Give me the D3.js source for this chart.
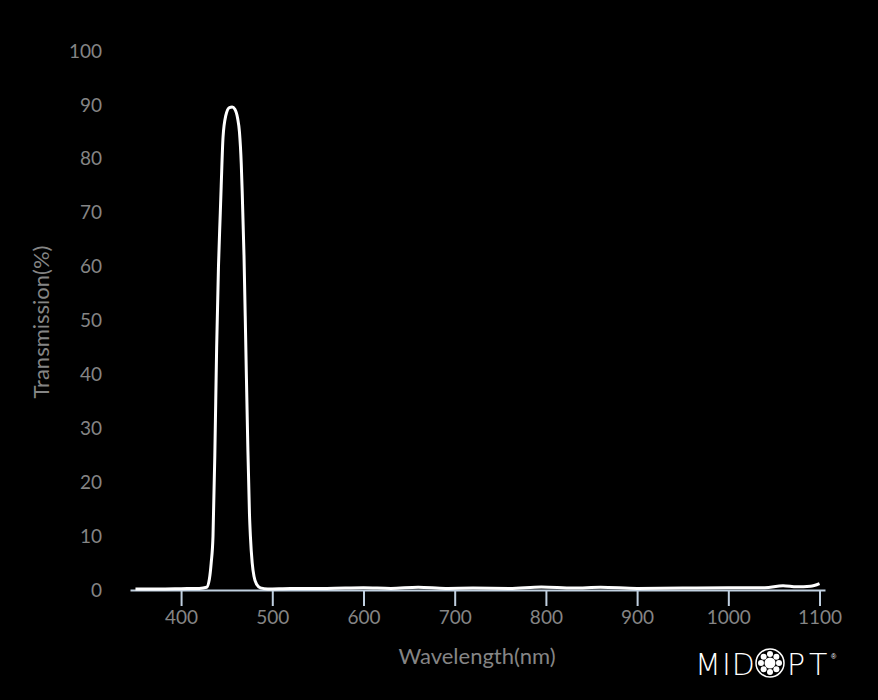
<!DOCTYPE html>
<html><head><meta charset="utf-8">
<script src="https://cdn.jsdelivr.net/npm/d3@7"></script>
<style>
html,body{margin:0;padding:0;background:#000;}
svg{display:block;}
</style></head>
<body>
<svg id="chart" width="878" height="700"></svg>
<script>
const wavelengths = [350,380,400,420,428,431,433,435,437,439,441,443,444,446,449,453,456,459,462,464,466,467,469,471,473,475,476,478,480,483,487,495,520,560,600,630,660,690,720,760,795,830,860,900,950,1000,1040,1060,1075,1090,1100];
const transmission = [0.2,0.2,0.25,0.3,0.5,2,5,10,25,45,60,70,75,84,88,89.5,89.6,89.2,87.5,85,79,74,62,45,28,14,10,5,2.5,1,0.4,0.2,0.3,0.3,0.4,0.3,0.5,0.3,0.35,0.3,0.55,0.35,0.5,0.3,0.35,0.4,0.4,0.8,0.6,0.7,1.2];
const xTicks = [400,500,600,700,800,900,1000,1100];
const yTicks = [0,10,20,30,40,50,60,70,80,90,100];

const svg = d3.select("#chart");
svg.append("rect").attr("width",878).attr("height",700).attr("fill","#000");

const x = d3.scaleLinear().domain([344,1106]).range([130,825]);
const y = d3.scaleLinear().domain([0,100]).range([590,51]);
const font = "Lato, 'Open Sans', sans-serif";

// y labels
svg.append("g").selectAll("text").data(yTicks).join("text")
  .attr("x",102).attr("y",d=>y(d)).attr("dy","0.35em")
  .attr("text-anchor","end").attr("fill","#858585")
  .style("font-family",font).style("font-size","19px").text(d=>d);

// x axis
const xa = svg.append("g").attr("transform","translate(0,590)")
  .call(d3.axisBottom(x).tickValues(xTicks).tickFormat(d3.format("d")).tickSize(16).tickPadding(5).tickSizeOuter(0));
xa.select(".domain").attr("stroke","#c0d0e0").attr("stroke-width",2);
xa.selectAll(".tick line").attr("stroke","#c0d0e0").attr("stroke-width",2);
xa.selectAll(".tick text").attr("fill","#858585").style("font-family",font).style("font-size","19px");

// titles
svg.append("text").attr("x",477).attr("y",664).attr("text-anchor","middle")
  .attr("fill","#858585").style("font-family",font).style("font-size","22px").text("Wavelength(nm)");
svg.append("text").attr("transform","translate(49,322) rotate(-90)").attr("text-anchor","middle")
  .attr("fill","#858585").style("font-family",font).style("font-size","22px").text("Transmission(%)");

// curve
const data = wavelengths.map((w,i)=>[w,transmission[i]]);
svg.append("path").datum(data)
  .attr("d", d3.line().x(d=>x(d[0])).y(d=>y(d[1])).curve(d3.curveMonotoneX))
  .attr("fill","none").attr("stroke","#fff").attr("stroke-width",3).attr("stroke-linejoin","round");

// logo
const logo = svg.append("g");
logo.append("text").attr("x",695).attr("y",675).attr("fill","#fff")
  .style("font-family","'DejaVu Sans', sans-serif").style("font-size","30px").style("font-weight","200")
  .style("letter-spacing","1px").text("MID");
const cx=770, cy=663;
logo.append("circle").attr("cx",cx).attr("cy",cy).attr("r",14).attr("fill","none").attr("stroke","#fff").attr("stroke-width",1.5);
logo.append("circle").attr("cx",cx).attr("cy",cy).attr("r",5.5).attr("fill","#fff");
for(let i=0;i<8;i++){
  const a = i*Math.PI/4;
  logo.append("circle").attr("cx",cx+9*Math.cos(a)).attr("cy",cy+9*Math.sin(a)).attr("r",3).attr("fill","#fff");
}
logo.append("text").attr("x",787).attr("y",675).attr("fill","#fff")
  .style("font-family","'DejaVu Sans', sans-serif").style("font-size","30px").style("font-weight","200")
  .style("letter-spacing","4px").text("PT");
logo.append("text").attr("x",831).attr("y",659).attr("fill","#fff")
  .style("font-family","sans-serif").style("font-size","7px").text("®");
</script>
</body></html>
